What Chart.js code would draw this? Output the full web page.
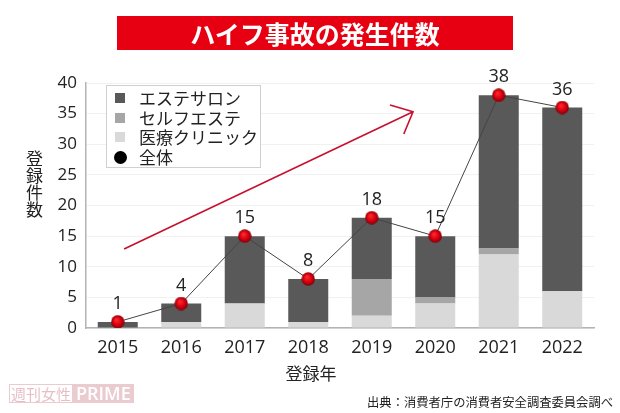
<!DOCTYPE html>
<html lang="ja">
<head>
<meta charset="utf-8">
<script src="https://cdn.jsdelivr.net/npm/chart.js@4.4.0/dist/chart.umd.min.js"></script>
<style>
  body { margin: 0; background: #fff; }
  #wrap { position: relative; width: 620px; height: 413px; font-family: "Open Sans", "Noto Sans CJK JP", sans-serif; color: #222; }
  #chart { position: absolute; left: 0; top: 0; }
  .banner { position: absolute; left: 117px; top: 16px; width: 396px; height: 34px; background: #e60012; color: #fff;
    font: bold 25px "Noto Sans CJK JP", sans-serif; line-height: 34px; text-align: center; letter-spacing: 0px; }
  .ytitle { position: absolute; left: 25px; top: 150px; width: 18px; font: 17px "Noto Sans CJK JP", sans-serif;
    line-height: 17px; writing-mode: vertical-rl; text-orientation: upright; }
  .xtitle { position: absolute; left: 261px; top: 360px; width: 100px; text-align: center; font: 17px "Noto Sans CJK JP", sans-serif; }
  .legend { position: absolute; left: 106px; top: 85px; width: 155px; height: 83px; border: 1px solid #d0d0d0; background: #fff;
    font: 17px "Noto Sans CJK JP", sans-serif; padding-top: 2px; box-sizing: border-box; }
  .legend div { height: 19.7px; line-height: 19.7px; position: relative; padding-left: 32px; white-space: nowrap; }
  .legend i { position: absolute; left: 8px; top: 5px; width: 10px; height: 10px; }
  .legend i.dot { left: 7px; top: 3.5px; width: 13px; height: 13px; border-radius: 50%; }
  .source { position: absolute; right: 7px; top: 393px; font: 12.3px "Noto Sans CJK JP", sans-serif; color: #222; }
  .logo { position: absolute; left: 9px; top: 384px; height: 19px; display: flex; opacity: 0.55; }
  .logo .a { border: 1px solid #d9a0a8; color: #d08a94; font: 15px "Noto Sans CJK JP", sans-serif; line-height: 17px; padding: 0 1px; }
  .logo .b { background: #d9a0a8; color: #fff; font: 600 18px "Open Sans", sans-serif; line-height: 19px; padding: 0 3px; }
</style>
</head>
<body>
<div id="wrap">
  <canvas id="chart" width="620" height="413"></canvas>
  <div class="banner">ハイフ事故の発生件数</div>
  <div class="ytitle">登録件数</div>
  <div class="xtitle">登録年</div>
  <div class="legend" id="legend"></div>
  <div class="logo"><span class="a">週刊女性</span><span class="b">PRIME</span></div>
  <div class="source">出典：消費者庁の消費者安全調査委員会調べ</div>
</div>
<script>
const years = ["2015", "2016", "2017", "2018", "2019", "2020", "2021", "2022"];
const esthe = [1, 3, 11, 7, 10, 10, 25, 30];
const selfEsthe = [0, 0, 0, 0, 6, 1, 1, 0];
const clinic = [0, 1, 4, 1, 2, 4, 12, 6];
const totals = [1, 4, 15, 8, 18, 15, 38, 36];
const yMax = 40;
const yStep = 5;

// trend arrow, in data units (category index, count)
const arrowFrom = [0.1, 12.9];
const arrowTo = [4.65, 35.3];

const colors = { esthe: "#595959", self: "#a6a6a6", clinic: "#d9d9d9" };

// red glossy ball used as point marker
function makeBall(size) {
  const c = document.createElement("canvas");
  c.width = size; c.height = size;
  const g = c.getContext("2d");
  const r = size / 2;
  const grad = g.createRadialGradient(r * 0.8, r * 0.7, 0.5, r, r, r);
  grad.addColorStop(0, "#ff2a2a");
  grad.addColorStop(0.55, "#d80010");
  grad.addColorStop(1, "#7a0008");
  g.fillStyle = grad;
  g.beginPath();
  g.arc(r, r, r - 0.3, 0, Math.PI * 2);
  g.fill();
  return c;
}
const ball = makeBall(14);

// html legend from the series
const legendItems = [
  ["エステサロン", colors.esthe, false],
  ["セルフエステ", colors.self, false],
  ["医療クリニック", colors.clinic, false],
  ["全体", "#000", true]
];
document.getElementById("legend").innerHTML = legendItems
  .map(([name, col, dot]) => `<div><i class="${dot ? "dot" : ""}" style="background:${col}"></i>${name}</div>`)
  .join("");

const extras = {
  id: "extras",
  afterDatasetsDraw(chart) {
    const ctx = chart.ctx;
    const x = chart.scales.x, y = chart.scales.y;

    // arrow
    const x1 = x.getPixelForValue(arrowFrom[0]), y1 = y.getPixelForValue(arrowFrom[1]);
    const x2 = x.getPixelForValue(arrowTo[0]), y2 = y.getPixelForValue(arrowTo[1]);
    const ang = Math.atan2(y2 - y1, x2 - x1);
    const head = 24, spread = 42 * Math.PI / 180;
    ctx.save();
    ctx.strokeStyle = "#c8102e";
    ctx.lineWidth = 1.6;
    ctx.beginPath();
    ctx.moveTo(x1, y1);
    ctx.lineTo(x2, y2);
    ctx.moveTo(x2 - head * Math.cos(ang - spread), y2 - head * Math.sin(ang - spread));
    ctx.lineTo(x2, y2);
    ctx.lineTo(x2 - head * Math.cos(ang + spread), y2 - head * Math.sin(ang + spread));
    ctx.stroke();

    // value labels over the total points
    const meta = chart.getDatasetMeta(3);
    ctx.fillStyle = "#222";
    ctx.font = "18px 'Open Sans', sans-serif";
    ctx.textAlign = "center";
    ctx.textBaseline = "bottom";
    meta.data.forEach((pt, i) => {
      ctx.fillText(String(totals[i]), pt.x, pt.y - 9);
    });
    ctx.restore();
  }
};

new Chart(document.getElementById("chart"), {
  data: {
    labels: years,
    datasets: [
      { type: "bar", label: "医療クリニック", data: clinic, backgroundColor: colors.clinic, order: 2 },
      { type: "bar", label: "セルフエステ", data: selfEsthe, backgroundColor: colors.self, order: 2 },
      { type: "bar", label: "エステサロン", data: esthe, backgroundColor: colors.esthe, order: 2 },
      {
        type: "line", label: "全体", data: totals, stack: "total", order: 0,
        borderColor: "#444", borderWidth: 1, pointStyle: ball, pointRadius: 7
      }
    ]
  },
  options: {
    responsive: false,
    animation: false,
    events: [],
    layout: { padding: { top: 83, right: 26, left: 0, bottom: 0 } },
    datasets: { bar: { categoryPercentage: 1, barPercentage: 0.63 } },
    plugins: { legend: { display: false }, title: { display: false }, tooltip: { enabled: false } },
    scales: {
      x: {
        stacked: true,
        grid: { display: false, drawTicks: false },
        border: { color: "#b3b3b3", width: 1.5 },
        ticks: { color: "#222", font: { size: 18, family: "'Open Sans', sans-serif" }, padding: 9 },
        afterFit(s) { s.height = 85; }
      },
      y: {
        stacked: true,
        min: 0,
        max: yMax,
        grid: { color: "#f1f1f1", drawTicks: false },
        border: { color: "#b3b3b3", width: 1.5 },
        ticks: { stepSize: yStep, color: "#222", font: { size: 17, family: "'Open Sans', sans-serif" }, padding: 9 },
        afterFit(s) { s.width = 86; }
      }
    }
  },
  plugins: [extras]
});
</script>
</body>
</html>
